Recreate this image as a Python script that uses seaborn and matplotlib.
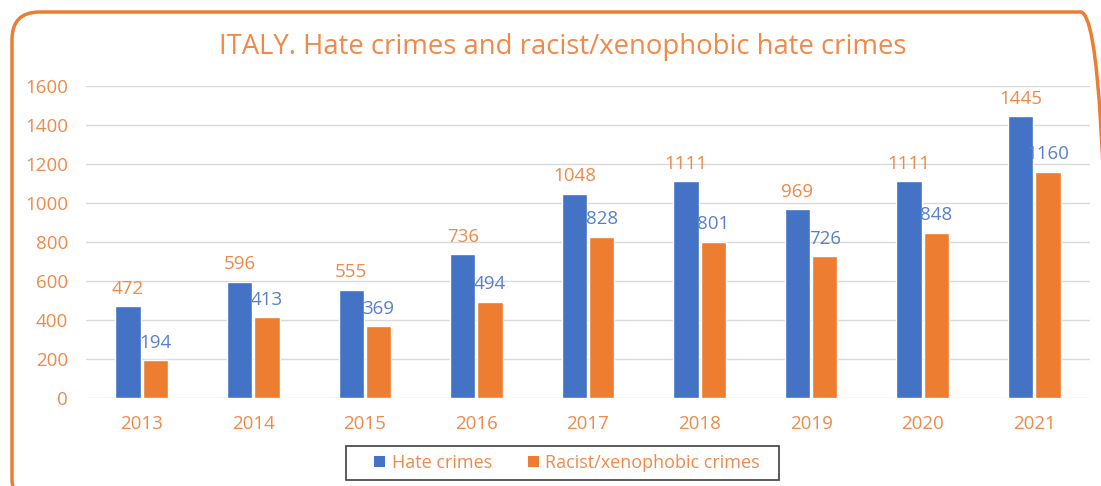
import matplotlib
matplotlib.use("Agg")
import matplotlib.pyplot as plt
from matplotlib.patches import FancyBboxPatch, Patch, Rectangle
import seaborn as sns
import pandas as pd

years = ["2013", "2014", "2015", "2016", "2017", "2018", "2019", "2020", "2021"]
hate_crimes = [472, 596, 555, 736, 1048, 1111, 969, 1111, 1445]
racist_crimes = [194, 413, 369, 494, 828, 801, 726, 848, 1160]
series = ["Hate crimes", "Racist/xenophobic crimes"]
title = "ITALY. Hate crimes and racist/xenophobic hate crimes"

BLUE = "#4472C4"
ORANGE = "#ED7D31"
TXT_OR = "#F0894A"
TXT_BL = "#5A80CC"

sns.set_theme(style="white")
plt.rcParams["font.family"] = ["Open Sans", "DejaVu Sans"]

df = pd.DataFrame({
    "year": years * 2,
    "value": hate_crimes + racist_crimes,
    "series": [series[0]] * len(years) + [series[1]] * len(years),
})

W, H = 1101, 486
fig = plt.figure(figsize=(W / 100, H / 100), dpi=100)
ax = fig.add_axes([86 / W, 1 - 398 / H, (1090 - 86) / W, (398 - 86) / H])

sns.barplot(data=df, x="year", y="value", hue="series", hue_order=series,
            palette=[BLUE, ORANGE], width=0.49, gap=0.07, ax=ax,
            legend=False, errorbar=None, saturation=1)

ax.set_ylim(0, 1600)
ax.set_yticks(range(0, 1601, 200))
ax.set_xlim(-0.5, len(years) - 0.5)
ax.grid(axis="y", color="#D9D9D9", linewidth=1)
ax.set_axisbelow(True)
for s in ax.spines.values():
    s.set_visible(False)
ax.set_xlabel("")
ax.set_ylabel("")
ax.tick_params(axis="y", colors=TXT_OR, labelsize=13.5, length=0, pad=13)
ax.tick_params(axis="x", colors=TXT_OR, labelsize=13.5, length=0, pad=12)

conts = ax.containers
ax.bar_label(conts[0], labels=[str(v) for v in hate_crimes], padding=6,
             color=TXT_OR, fontsize=13.5)
ax.bar_label(conts[1], labels=[str(v) for v in racist_crimes], padding=6,
             color=TXT_BL, fontsize=13.5)

fig.text(563 / W, 1 - 47 / H, title, ha="center", va="center",
         color=TXT_OR, fontsize=19.8)

handles = [Patch(facecolor=BLUE, edgecolor="none"), Patch(facecolor=ORANGE, edgecolor="none")]
leg = fig.legend(handles, series, loc="center", ncol=2,
                 bbox_to_anchor=(567 / W, 1 - 463 / H),
                 frameon=False, fontsize=13,
                 handlelength=0.6, handleheight=0.6, handletextpad=0.35,
                 columnspacing=2.0, borderpad=0.3, borderaxespad=0)
for t in leg.get_texts():
    t.set_color(TXT_OR)

fig.patches.append(Rectangle((346 / W, 1 - 480 / H), (779 - 346) / W, (480 - 446) / H,
                             transform=fig.transFigure, facecolor="none",
                             edgecolor="#404040", linewidth=1.2))

frame = FancyBboxPatch((12 / W, -20 / H), (1108 - 12) / W, (474 + 20) / H,
                       boxstyle="round,pad=0,rounding_size=0.025",
                       transform=fig.transFigure, facecolor="none",
                       edgecolor=ORANGE, linewidth=2.5, clip_on=False,
                       mutation_aspect=W / H)
fig.patches.append(frame)

fig.savefig("out.png", dpi=100)
